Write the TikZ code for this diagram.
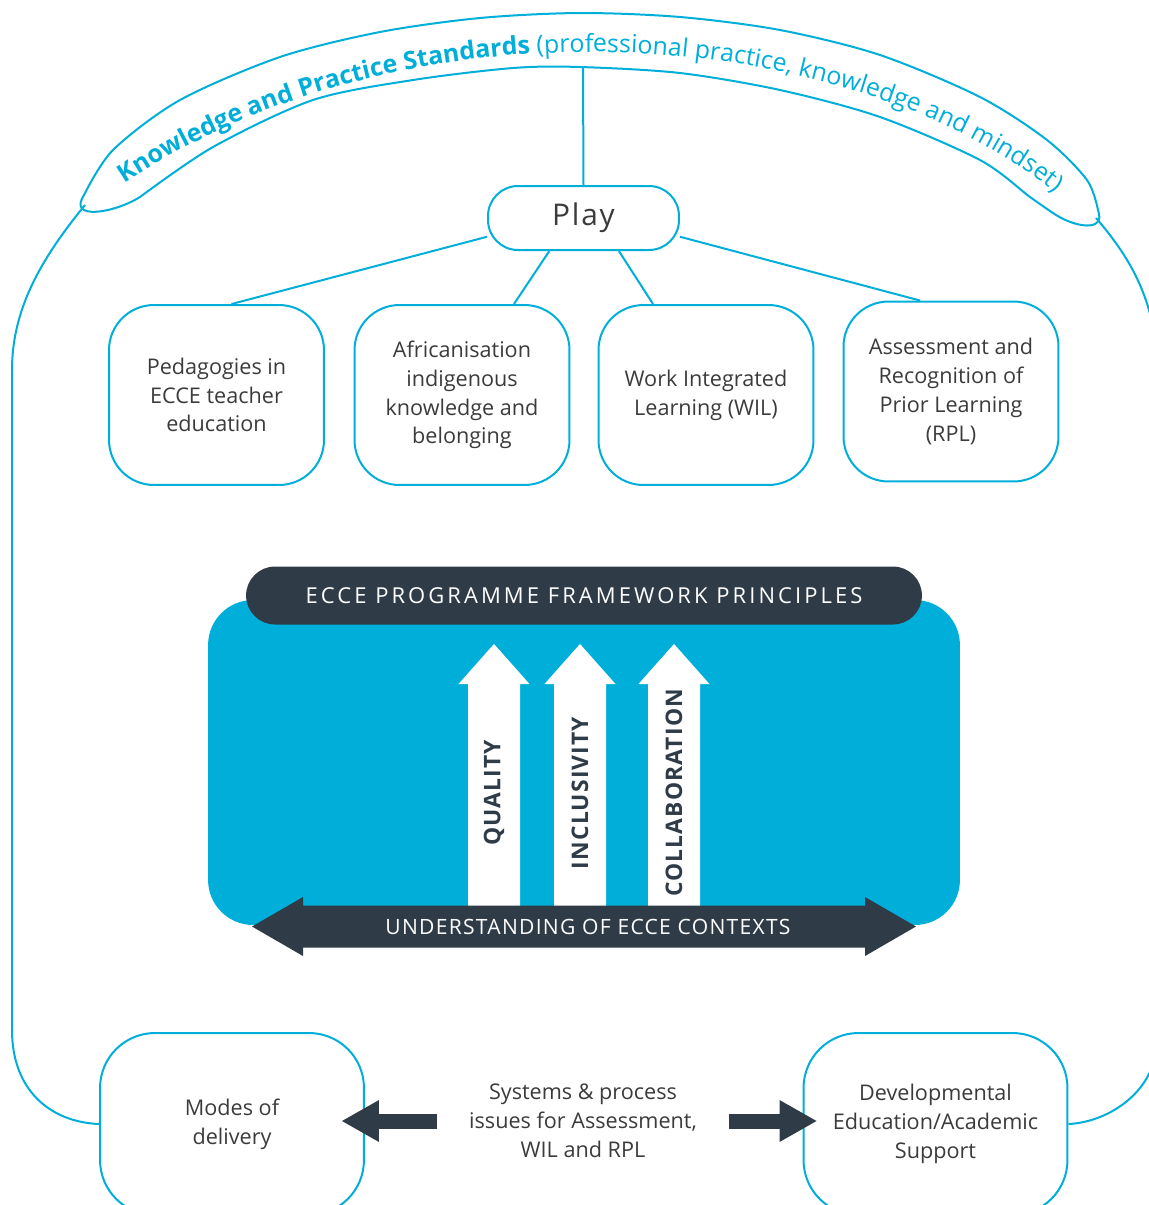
\documentclass[tikz,border=0pt]{standalone}
\usepackage{fontspec}
\setmainfont{Open Sans}
\newfontfamily\spaced[LetterSpace=14]{Open Sans}
\newfontfamily\spacedn[LetterSpace=6]{Open Sans}
\newfontfamily\spacedb[LetterSpace=5]{Open Sans}
\usetikzlibrary{arrows.meta,decorations.text}
\definecolor{kpblue}{HTML}{00AEDA}
\definecolor{kpdark}{HTML}{2F3C48}
\definecolor{kptext}{HTML}{3B3B3B}

\begin{document}
\begin{tikzpicture}[x={(0.02cm,0)},y={(0,-0.02cm)},>={Triangle[line width=0pt]},
  line/.style={draw=kpblue,line width=0.04cm},
  kasten/.style={line,rounded corners=0.9cm,minimum width=4.3cm,minimum height=3.6cm,
    align=center,text=kptext,font=\fontsize{12.3}{16.4}\selectfont},
  unten/.style={kasten,rounded corners=1.1cm,minimum width=5.28cm,minimum height=3.64cm},
  prinz/.style={rotate=90,text=kpdark,font=\spacedb\bfseries\fontsize{13}{15}\selectfont},
  sysarrow/.style={draw=kpdark,line width=0.3cm,shorten <=0.63cm,
    -{Triangle[length=0.74cm,width=0.84cm,line width=0pt]}}]
  \useasboundingbox (0,0) rectangle (1149,1205);
  % Bogen oben
  \draw[line] plot[smooth] coordinates {(84,195) (113,150) (180,100) (280,57) (380,32) (480,18) (580,13) (680,17) (780,30) (880,55) (980,97) (1047,140) (1087,180) (1098,210)}
    to[out=290,in=325,looseness=1.4] (1053,213)
    -- plot[smooth] coordinates {(1053,213) (1030,197) (980,160) (880,117) (780,90) (680,73) (580,67) (513,68) (413,80) (313,100) (213,147) (140,197)}
    to[out=212,in=237,looseness=1.4] (84,195) -- cycle;
  \path[decorate,decoration={text along path,text color=kpblue,text align=center,
    text={|\fontsize{14.2}{17}\selectfont\bfseries|Knowledge and Practice Standards |\fontsize{14.2}{17}\selectfont\mdseries|(professional practice, knowledge and mindset)}}]
    (116,189) .. controls (250,97) and (420,52) .. (590,52) .. controls (780,52) and (960,110) .. (1063,199);
  \coordinate (kpl) at (85,205);
  \coordinate (kpr) at (1096,218);
  \coordinate (kpm) at (583,67);
  % Play und Kaesten
  \node[line,rounded corners=0.6cm,minimum width=3.82cm,minimum height=1.28cm,text=kptext,font=\spacedn\fontsize{17}{20}\selectfont] (play) at (583.5,218) {Play};
  \node[kasten] (ped) at (216.5,395) {Pedagogies in\\ECCE teacher\\education};
  \node[kasten] (afr) at (462,395) {Africanisation\\indigenous\\knowledge and\\belonging};
  \node[kasten] (wil) at (706,395) {Work Integrated\\Learning (WIL)};
  \node[kasten] (rpl) at (951,391.5) {Assessment and\\Recognition of\\Prior Learning\\(RPL)};
  \draw[line] (kpm) -- (play.north);
  \draw[line] (play.191) -- ([xshift=0.3cm]ped.north);
  \draw[line] (play.224) -- ([xshift=1.04cm]afr.north);
  \draw[line] (play.317) -- ([xshift=-1.06cm]wil.north);
  \draw[line] (play.349) -- ([xshift=-0.62cm]rpl.north);
  % Prinzipien
  \node[fill=kpblue,rounded corners=0.9cm,minimum width=15.04cm,minimum height=6.5cm] (panel) at (584,762.5) {};
  \node[fill=kpdark,rounded corners=0.58cm,minimum width=13.52cm,minimum height=1.16cm,text=white,
    font=\spaced\fontsize{12.5}{15}\selectfont] (head) at (584,595.5) {ECCE PROGRAMME FRAMEWORK PRINCIPLES};
  \foreach \x/\wort [count=\i] in {494/QUALITY,580/INCLUSIVITY,674/COLLABORATION}{
    \fill[white] (\x-26,910) -- (\x-26,684) -- (\x-35.5,684) -- (\x,644) -- (\x+35.5,684) -- (\x+26,684) -- (\x+26,910) -- cycle;
    \node[prinz] (p\i) at (\x,793) {\wort};
  }
  \fill[kpdark] (252,926.5) -- (303,897) -- (303,905.5) -- (865,905.5) -- (865,897) -- (916,926.5)
    -- (865,956) -- (865,947.5) -- (303,947.5) -- (303,956) -- cycle;
  \node[text=white,font=\spacedn\fontsize{12}{14}\selectfont] (ctx) at (588,927) {UNDERSTANDING OF ECCE CONTEXTS};
  % unten
  \node[unten] (modes) at (232,1124) {Modes of\\delivery};
  \node[unten] (dev) at (935.5,1124) {Developmental\\Education/Academic\\Support};
  \node[text=kptext,align=center,inner sep=0pt,font=\fontsize{12.3}{16.4}\selectfont] (sys) at (583,1121) {Systems \& process\\issues for Assessment,\\WIL and RPL};
  \draw[sysarrow,shorten >=-0.46cm] (sys.west) -- (sys.west -| modes.east);
  \draw[sysarrow,shorten >=-0.28cm] (sys.east) -- (sys.east -| dev.west);
  % Rahmen
  \draw[line] (kpl) .. controls (40,260) and (12,310) .. (12,370) -- (12,1030) .. controls (12,1090) and (50,1122) .. (modes.west);
  \draw[line] (kpr) .. controls (1128,255) and (1157,300) .. (1157,370) -- (1157,1040) .. controls (1157,1090) and (1110,1122) .. (dev.east);
\end{tikzpicture}
\end{document}
